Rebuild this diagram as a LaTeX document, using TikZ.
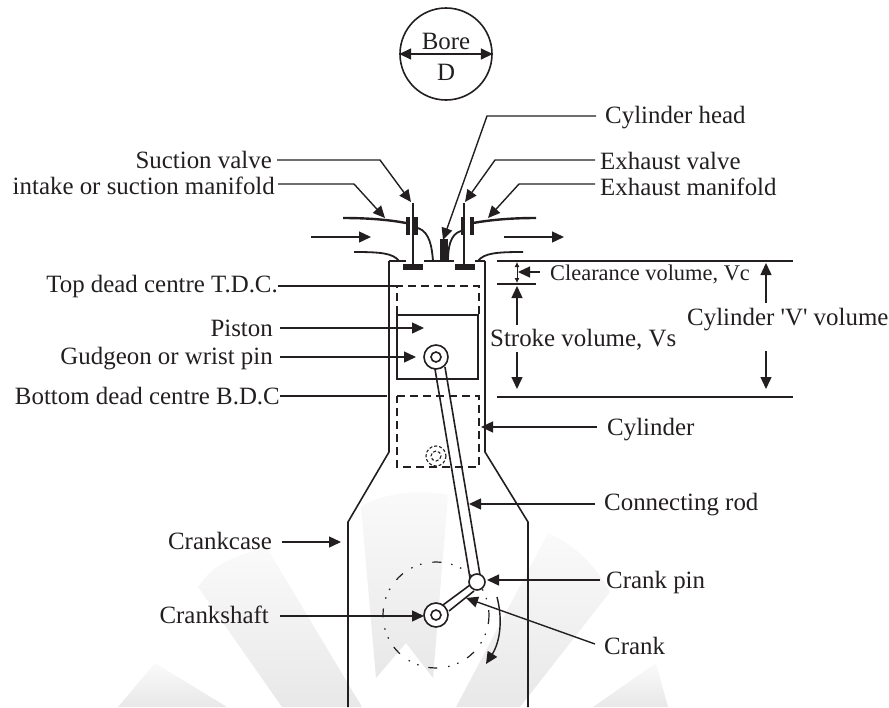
\documentclass[tikz,border=0pt]{standalone}
\usepackage{fontspec}
\setmainfont{Liberation Serif}
\usetikzlibrary{arrows.meta}
\definecolor{ink}{RGB}{35,31,32}
\definecolor{fan}{RGB}{232,232,232}
\definecolor{fanlight}{RGB}{250,250,250}
\tikzset{
  wall/.style={draw=ink,line width=1.6pt},
  thin line/.style={draw=ink,line width=1.4pt},
  leader/.style={draw=ink,line width=1.4pt,-{Triangle[length=12pt,width=11pt]}},
  double leader/.style={draw=ink,line width=1.6pt,{Triangle[length=12pt,width=11pt]}-{Triangle[length=12pt,width=11pt]}},
  port/.style={draw=ink,line width=2.4pt},
  ghost/.style={draw=ink,line width=1.3pt,dash pattern=on 8pt off 5pt},
  wedge/.style={top color=fanlight,bottom color=fan,draw=none},
  lbl/.style={inner sep=0pt,font=\fontsize{24.9}{26}\selectfont,text=ink},
}
\begin{document}
\begin{tikzpicture}[x=1pt,y=-1pt]
\useasboundingbox (0,0) rectangle (889,707);

% watermark fan
\shade[wedge] (361,507) .. controls (375,495) and (420,488) .. (448,495) -- (433,678) -- (406,643) -- (376,678) -- cycle;
\shade[wedge] (198,587) .. controls (210,570) and (222,558) .. (267,548) -- (362,707) -- (282,707) -- cycle;
\shade[wedge] (548,533) .. controls (575,545) and (595,565) .. (610,592) -- (520,707) -- (456,707) -- cycle;
\shade[wedge] (118,707) -- (155,663) -- (227,707) -- cycle;
\shade[wedge] (593,707) -- (656,663) -- (668,707) -- cycle;

% bore circle
\node[circle,wall,minimum size=92pt,inner sep=0pt] (bore) at (446,54) {};
\node[lbl] (boretxt) at (446,41) {Bore};
\node[lbl] (boredia) at (446,72) {D};
\draw[double leader] (bore.west) -- (bore.east);

% cylinder and crankcase
\draw[wall] (389,261) -- (406,261) (424,261) -- (454,261) (475,261) -- (485,261);
\draw[wall] (348,707) -- (348,522) -- (389,452) -- (389,261);
\draw[wall] (528,707) -- (528,522) -- (485,452) -- (485,261);

% manifolds and valves
\draw[port] (343,218) .. controls (370,218) and (390,220) .. (406,223);
\draw[port] (536,218) .. controls (510,218) and (490,220) .. (473,223);
\draw[port,line width=1.8pt] (354,252) .. controls (380,252) and (393,253) .. (399,261);
\draw[port,line width=1.8pt] (523,252) .. controls (497,252) and (484,253) .. (478,261);
\draw[port,line width=1.8pt] (418,228) .. controls (430,232) and (432,248) .. (433,261);
\draw[port,line width=1.8pt] (461,231) .. controls (450,234) and (448,248) .. (448,261);
\foreach \x in {413,464} \draw[port] (\x,203) -- (\x,265);
\foreach \x in {403,455} \fill[ink] (\x,264) rectangle (\x+20,270);
\foreach \x in {406,414,461,470} \fill[ink] (\x,217) rectangle (\x+4,235);
\fill[ink] (440,239) rectangle (448,261);

% piston, dead centre dashes, rod
\draw[wall] (397,315) rectangle (478,379);
\draw[draw=ink,line width=1.2pt,dash pattern=on 9pt off 10pt on 1.5pt off 8pt on 1.5pt off 11pt] (436,615) circle (53);
\draw[wall] (435,369) -- (470,578);
\draw[wall] (445,367) -- (480,575);
\draw[wall] (443,605) -- (470,585);
\draw[wall] (449,611) -- (474,591);
\draw[ghost] (397,314) -- (397,286) -- (479,286) -- (479,314);
\draw[ghost] (397,396) -- (479,396) -- (479,467) -- (397,467) -- cycle;
\node[circle,wall,fill=white,minimum size=24pt,inner sep=0pt] (pinout) at (436,357) {};
\node[circle,wall,minimum size=10pt,inner sep=0pt] (pinin) at (436,357) {};
\draw[draw=ink,line width=1.1pt,densely dashed] (436,456) circle (10) (436,456) circle (5);
\node[circle,wall,fill=white,minimum size=16pt,inner sep=0pt] (crankpin) at (477,582) {};
\node[circle,wall,fill=white,minimum size=24pt,inner sep=0pt] (shaftout) at (436,615) {};
\node[circle,wall,minimum size=10pt,inner sep=0pt] (shaftin) at (436,615) {};
\draw[leader] (497,597) .. controls (503,620) and (500,642) .. (486,664);

% targets
\coordinate (suctip) at (411,202);
\coordinate (inttip) at (385,218);
\coordinate (exvtip) at (465,202);
\coordinate (exmtip) at (488,218);
\coordinate (headtip) at (443,240);
\coordinate (tdcend) at (400,286);
\coordinate (pistip) at (424,328);
\coordinate (gudtip) at (416,357);
\coordinate (bdcend) at (387,396);
\coordinate (cyltip) at (481,427);
\coordinate (rodtip) at (469,504);
\coordinate (casetip) at (341,542);
\coordinate (pintip) at (487,580);
\coordinate (shafttip) at (424,616);
\coordinate (cranktip) at (466,598);

% left labels
\node[lbl,anchor=east] (suction) at (272,160) {Suction valve};
\node[lbl,anchor=east] (intake) at (275,186) {intake or suction manifold};
\node[lbl,anchor=east] (tdc) at (278,287) {Top dead centre T.D.C.};
\node[lbl,anchor=east] (piston) at (273,328) {Piston};
\node[lbl,anchor=east] (gudgeon) at (273,359) {Gudgeon or wrist pin};
\node[lbl,anchor=east] (bdc) at (280,396) {Bottom dead centre B.D.C};
\node[lbl,anchor=east] (crankcase) at (272,541) {Crankcase};
\node[lbl,anchor=east] (crankshaft) at (269,615) {Crankshaft};

% right labels
\node[lbl,anchor=west] (head) at (605,118) {Cylinder head};
\node[lbl,anchor=west] (exvalve) at (600,161) {Exhaust valve};
\node[lbl,anchor=west] (exman) at (600,187) {Exhaust manifold};
\node[lbl,anchor=west] (cylinder) at (607,430) {Cylinder};
\node[lbl,anchor=west] (rod) at (604,505) {Connecting rod};
\node[lbl,anchor=west] (pinlbl) at (606,583) {Crank pin};
\node[lbl,anchor=west] (crank) at (604,646) {Crank};

% leaders
\draw[leader] (suction.east)+(5,0) -- (380,160) -- (suctip);
\draw[leader] (intake.east)+(3,-2) -- (354,184) -- (inttip);
\draw[leader] (exvalve.west)+(-5,-1) -- (495,160) -- (exvtip);
\draw[leader] (exman.west)+(-5,-3) -- (519,184) -- (exmtip);
\draw[leader] (head.west)+(-9,-2) -- (487,116) -- (headtip);
\draw[thin line] (tdc.east)+(0,-1) -- (tdcend);
\draw[leader] (piston.east)+(7,0) -- (pistip);
\draw[leader] (gudgeon.east)+(7,-2) -- (gudtip);
\draw[thin line] (bdc.east) -- (bdcend);
\draw[leader] (cylinder.west)+(-10,-3) -- (cyltip);
\draw[leader] (rod.west)+(-9,-1) -- (rodtip);
\draw[leader] (crankcase.east)+(10,1) -- (casetip);
\draw[leader] (pinlbl.west)+(-6,-3) -- (pintip);
\draw[leader] (crankshaft.east)+(11,1) -- (shafttip);
\draw[leader] (crank.west)+(-9,-2) -- (cranktip);

% flow arrows
\coordinate (inflowa) at (311,237);
\coordinate (inflowb) at (371,237);
\coordinate (outflowa) at (504,237);
\coordinate (outflowb) at (564,237);
\draw[leader] (inflowa) -- (inflowb);
\draw[leader] (outflowa) -- (outflowb);

% volumes
\coordinate (tdca) at (497,261);
\coordinate (tdcb) at (793,261);
\coordinate (clra) at (497,284);
\coordinate (clrb) at (536,284);
\coordinate (bota) at (497,397);
\coordinate (botb) at (793,397);
\draw[thin line] (tdca) -- (tdcb);
\draw[thin line] (clra) -- (clrb);
\draw[thin line] (bota) -- (botb);
\node[lbl,anchor=west,font=\fontsize{22.4}{24}\selectfont] (clearance) at (550,274) {Clearance volume, Vc};
\node[lbl,anchor=west] (stroke) at (490,340) {Stroke volume, Vs};
\node[lbl,anchor=west] (vol) at (687,320) {Cylinder \textquotesingle V\textquotesingle{} volume};
\draw[draw=ink,line width=.8pt,{Latex[length=5pt,width=5pt]}-{Latex[length=5pt,width=5pt]}] (517,262) -- (517,283);
\draw[leader] (clearance.west)+(-10,-2) -- (518,272);
\draw[leader] (517,325) -- (517,286);
\draw[leader] (517,352) -- (517,389);
\draw[leader] (766,303) -- (766,263);
\draw[leader] (766,351) -- (766,389);
\end{tikzpicture}
\end{document}
